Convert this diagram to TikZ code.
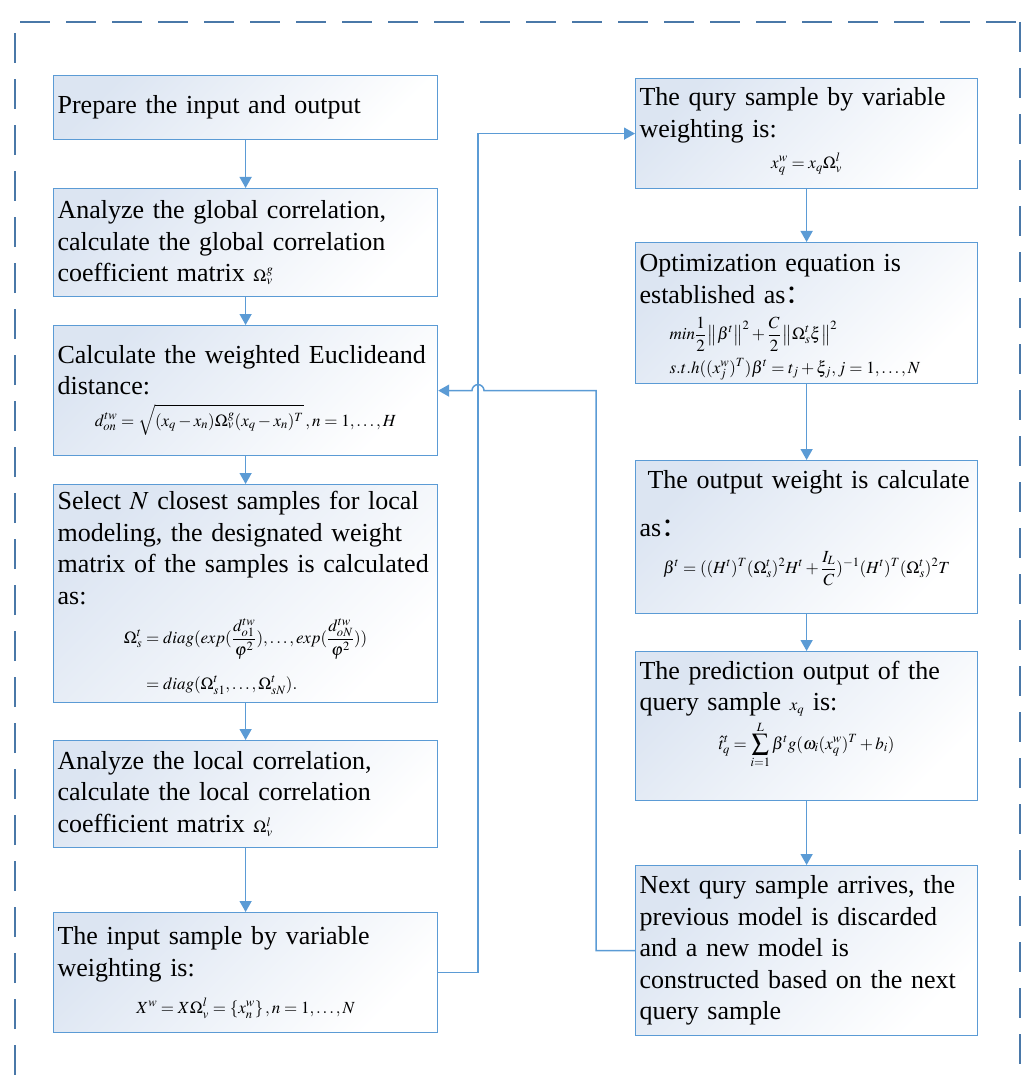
\documentclass[tikz,border=0pt]{standalone}
\usepackage{amsmath}
\usepackage{mathptmx}
\usepackage{fontspec}
\setmainfont{Liberation Serif}
\newfontfamily\cjk{Noto Sans CJK SC}
\usetikzlibrary{arrows.meta,calc}
\definecolor{boxline}{HTML}{5B9BD5}
\definecolor{boxfill}{HTML}{DCE5F2}
\definecolor{frameline}{HTML}{4A78A8}
\newcommand\fsm{\fontsize{17}{20}\selectfont}
\newcommand\lfm[1]{\makebox[376pt]{\fsm$\displaystyle #1$}}
\newcommand\rfm[1]{\makebox[334pt]{\fsm$\displaystyle #1$}}
\newcommand\lift[1]{\rule[-#1]{0pt}{0pt}}
\tikzset{
  stepbox/.style={draw=boxline, line width=1.2pt, top color=boxfill, bottom color=white,
    shading angle=45, anchor=north west, inner xsep=4pt, inner ysep=2pt, align=left,
    font=\fontsize{26}{31.5}\selectfont},
  leftbox/.style={stepbox, minimum width=384pt, text width=376pt},
  rightbox/.style={stepbox, minimum width=342pt, text width=334pt},
  arr/.style={draw=boxline, line width=1.5pt, -{Triangle[length=11pt,width=12pt]}},
  frame/.style={draw=frameline, line width=2.5pt, dash pattern=on 30pt off 16pt}
}
\begin{document}
\begin{tikzpicture}[x=1pt,y=-1pt]
\useasboundingbox (0,0) rectangle (1032,1075);
\draw[frame] (15,1075) -- (15,22) -- (1026,22);
\draw[frame] (1020,22) -- (1020,1075);

\node[leftbox, minimum height=64pt] (b1) at (53,75) {Prepare the input and output};
\node[leftbox, minimum height=108pt] (b2) at (53,188) {Analyze the global correlation,\\ calculate the global correlation\\ coefficient matrix {\fsm$\Omega_v^g$}};
\node[leftbox, minimum height=130pt] (b3) at (53,325) {Calculate the weighted Euclideand\\ distance:\\ \lfm{d_{on}^{tw} = \sqrt{(x_q-x_n)\Omega_v^g(x_q-x_n)^T}\,, n=1,\ldots,H}};
\node[leftbox, minimum height=218pt] (b4) at (53,484) {Select $N$ closest samples for local\\ modeling, the designated weight\\ matrix of the samples is calculated\\ as:\\[13pt] \lfm{\begin{aligned}\Omega_s^t &= diag(exp(\frac{d_{o1}^{tw}}{\varphi^2}),\ldots,exp(\frac{d_{oN}^{tw}}{\varphi^2}))\\[13pt] &= diag(\Omega_{s1}^t,\ldots,\Omega_{sN}^t).\end{aligned}}};
\node[leftbox, minimum height=107pt] (b5) at (53,740) {Analyze the local correlation,\\ calculate the local correlation\\ coefficient matrix {\fsm$\Omega_v^l$}};
\node[leftbox, minimum height=120pt] (b6) at (53,912) {The input sample by variable\\ weighting is:\\[6pt] \lfm{X^w = X\Omega_v^l = \left\{x_n^w\right\}, n=1,\ldots,N}};

\node[rightbox, minimum height=110pt] (r1) at (635,78) {The qury sample by variable\\ weighting is:\\ \rfm{x_q^w = x_q\Omega_v^l}\lift{11pt}};
\node[rightbox, minimum height=141pt] (r2) at (635,242) {\rule{0pt}{26pt}Optimization equation is\\ established as{\cjk ：}\\[5pt] \hspace*{30pt}{\fsm$\displaystyle min\frac12\left\|\beta^t\right\|^2+\frac C2\left\|\Omega_s^t\xi\right\|^2$}\\[2pt] \hspace*{30pt}{\fsm$s.t.h((x_j^w)^T)\beta^t = t_j+\xi_j, j=1,\ldots,N$}};
\node[rightbox, minimum height=153pt] (r3) at (635,460) {\hspace*{8pt}The output weight is calculate\\[16pt] as{\cjk ：}\\[6pt] \rfm{\beta^t=((H^t)^T(\Omega_s^t)^2H^t+\frac{I_L}{C})^{-1}(H^t)^T(\Omega_s^t)^2T}\lift{30pt}};
\node[rightbox, minimum height=149pt] (r4) at (635,651) {The prediction output of the\\ query sample {\fsm$x_q$} is:\\[4pt] \rfm{\hat{t}_q^t = \sum_{i=1}^L\beta^t g(\omega_i(x_q^w)^T+b_i)}\lift{42pt}};
\node[rightbox, minimum height=170pt] (r5) at (635,865) {Next qury sample arrives, the\\ previous model is discarded\\ and a new model is\\ constructed based on the next\\ query sample};

\draw[arr] (b1.south) -- (b2.north);
\draw[arr] (b2.south) -- (b3.north);
\draw[arr] (b3.south) -- (b4.north);
\draw[arr] (b4.south) -- (b5.north);
\draw[arr] (b5.south) -- (b6.north);
\draw[arr] (r1.south) -- (r2.north);
\draw[arr] (r2.south) -- (r3.north);
\draw[arr] (r3.south) -- (r4.north);
\draw[arr] (r4.south) -- (r5.north);

\coordinate (jx) at (478,0);
\coordinate (jy) at (596,0);
\draw[arr] (b6.east) -| (jx |- r1.west) -- (r1.west);
\draw[arr] (r5.west) -| (jy |- b3.east) -- ($(jx |- b3.east)+(6,0)$) arc[start angle=0, end angle=-180, radius=6] -- (b3.east);
\end{tikzpicture}
\end{document}
